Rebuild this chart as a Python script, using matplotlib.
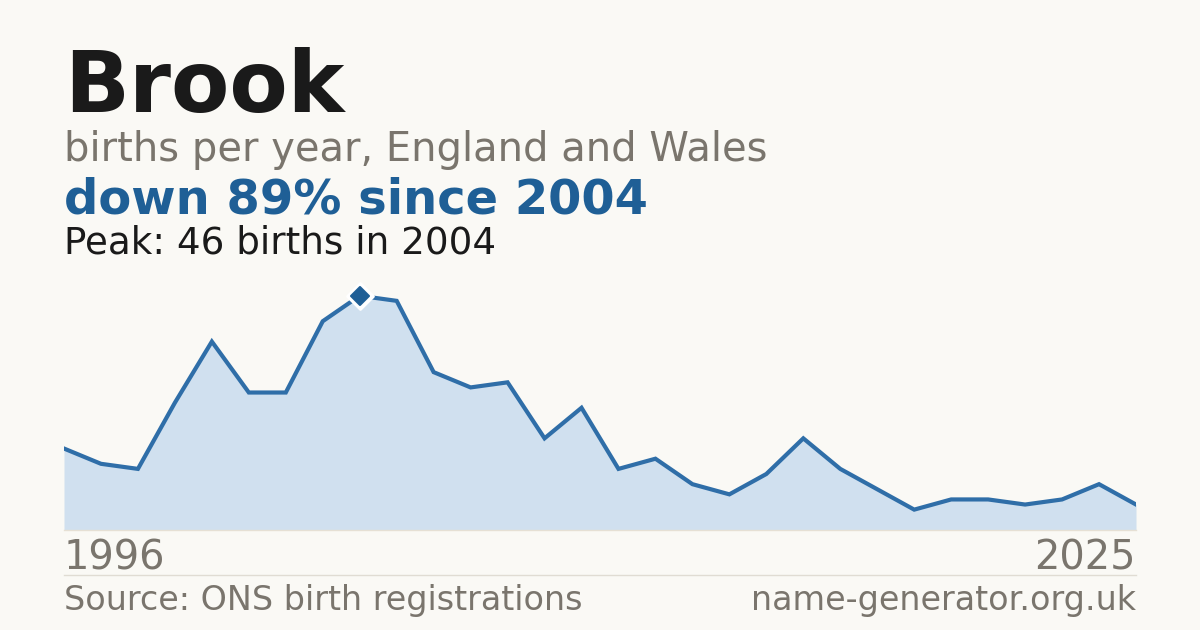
import matplotlib
matplotlib.use("Agg")
import matplotlib.pyplot as plt
from matplotlib.markers import MarkerStyle

# data
years = list(range(1996, 2026))
births = [16, 13, 12, 25, 37, 27, 27, 41, 46, 45,
          31, 28, 29, 18, 24, 12, 14, 9, 7, 11,
          18, 12, 8, 4, 6, 6, 5, 6, 9, 5]

name = "Brook"
subtitle = "births per year, England and Wales"
source = "Source: ONS birth registrations"
site = "name-generator.org.uk"

BG = "#faf9f5"
BLUE = "#1f5f96"
LINE = "#2f6ea8"
FILL = "#d0e0ef"
GREY = "#7a756d"
DARK = "#1a1a1a"

W, H = 1200, 630
plt.rcParams["font.family"] = ["DejaVu Sans"]

fig = plt.figure(figsize=(W / 100, H / 100), dpi=100, facecolor=BG)

def fy(px):
    return 1 - px / H

# chart area: x 64..1136, y 270..530 px
ax = fig.add_axes([64 / W, fy(530), (1136 - 64) / W, (530 - 270) / H])
ax.set_facecolor(BG)

peak = max(births)
peak_year = years[births.index(peak)]
change = round((1 - births[-1] / peak) * 100)

ax.fill_between(years, births, 0, color=FILL, lw=0)
ax.plot(years, births, color=LINE, lw=3.0, solid_joinstyle="miter")
# peak marker: white halo then rounded blue diamond
diamond = MarkerStyle("D", joinstyle="round")
ax.plot([peak_year], [peak], marker=diamond, ms=13, color="white",
        mec="white", mew=2, zorder=5)
ax.plot([peak_year], [peak], marker=diamond, ms=9, color=BLUE,
        mec=BLUE, mew=1.5, zorder=6)

ax.set_xlim(years[0], years[-1])
ax.set_ylim(0, peak * 1.11)
ax.set_xticks([])
ax.set_yticks([])
for s in ["top", "left", "right"]:
    ax.spines[s].set_visible(False)
ax.spines["bottom"].set_color("#e6e0d4")
ax.spines["bottom"].set_linewidth(1)

# header
fig.text(64 / W, fy(112), name, fontsize=61.3, fontweight="bold", color=DARK, va="baseline")
fig.text(64 / W, fy(161), subtitle, fontsize=28.8, color=GREY, va="baseline")
fig.text(64 / W, fy(214), f"down {change}% since {peak_year}", fontsize=34.6,
         fontweight="bold", color=BLUE, va="baseline")
fig.text(64 / W, fy(254), f"Peak: {peak} births in {peak_year}", fontsize=26.8,
         color=DARK, va="baseline")

# x-axis end labels
fig.text(64 / W, fy(569), str(years[0]), fontsize=28.7, color=GREY, va="baseline")
fig.text(1136 / W, fy(569), str(years[-1]), fontsize=28.7, color=GREY,
         va="baseline", ha="right")

# footer
fig.add_artist(plt.Line2D([64 / W, 1136 / W], [fy(575), fy(575)],
                          color="#e0dcd3", lw=1))
fig.text(64 / W, fy(610), source, fontsize=24.0, color=GREY, va="baseline")
fig.text(1136 / W, fy(610), site, fontsize=24.0, color=GREY, va="baseline", ha="right")

fig.savefig("out.png", dpi=100, facecolor=BG)
